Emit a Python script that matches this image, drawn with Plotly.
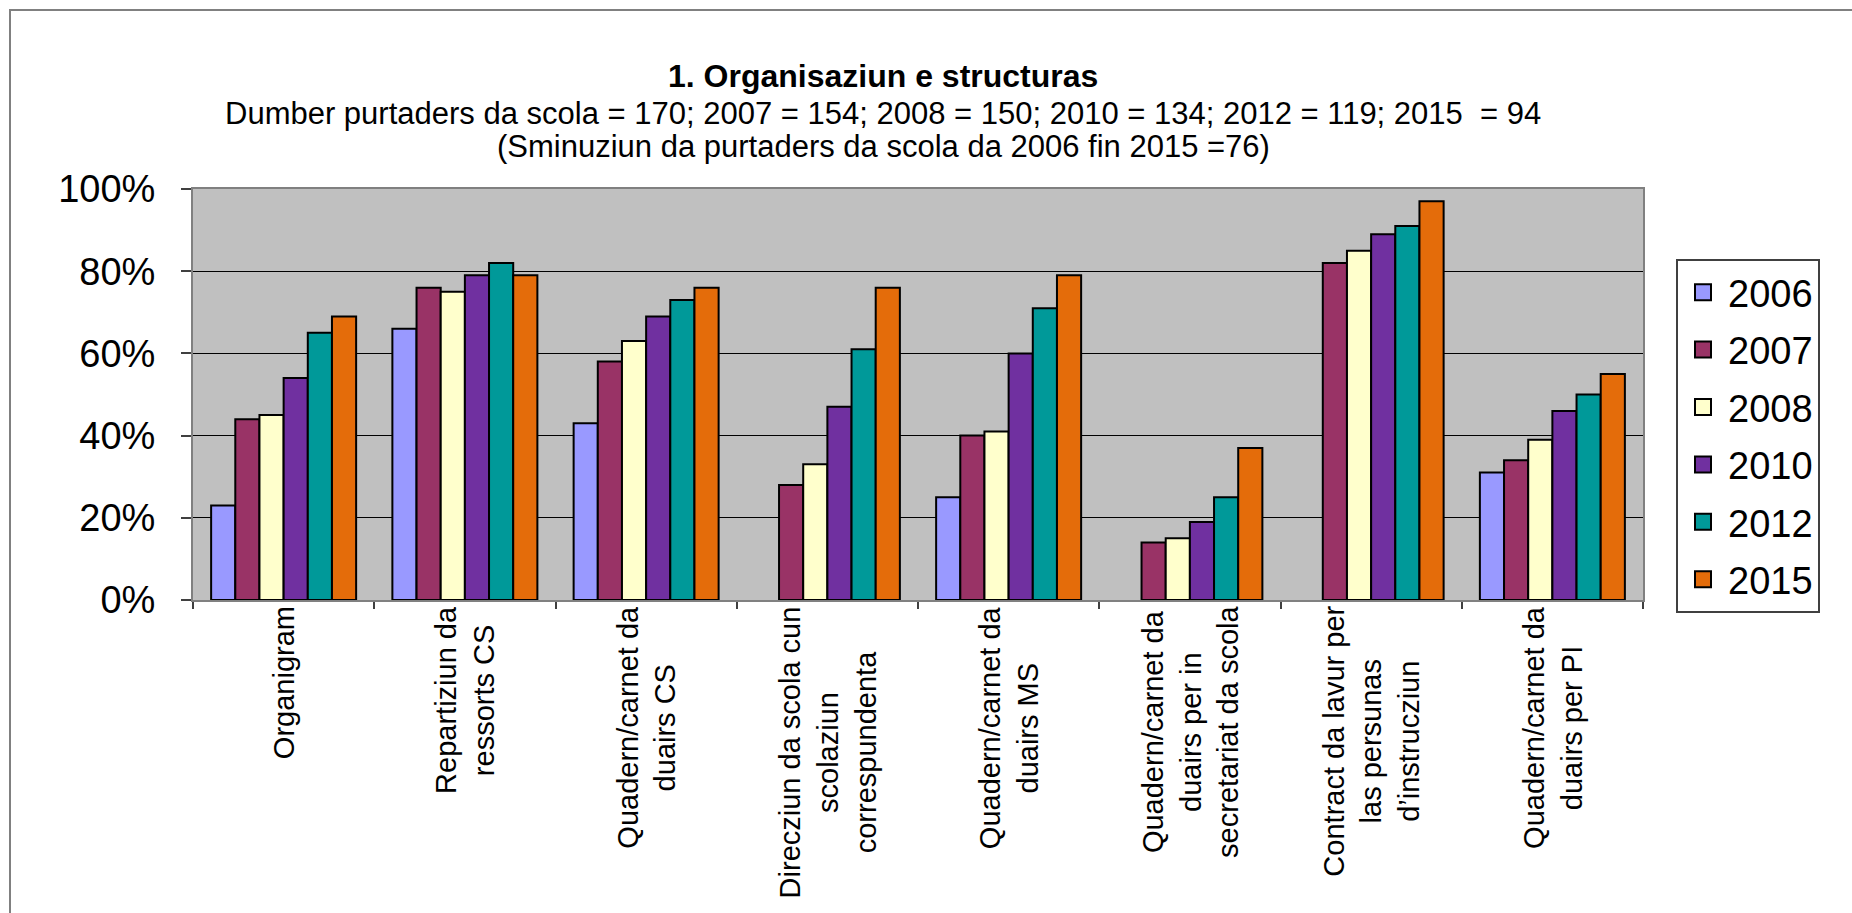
import plotly.graph_objects as go

categories = [
    "Organigram",
    "Repartiziun da<br>ressorts CS",
    "Quadern/carnet da<br>duairs CS",
    "Direcziun da scola cun<br>scolaziun<br>correspundenta",
    "Quadern/carnet da<br>duairs MS",
    "Quadern/carnet da<br>duairs per in<br>secretariat da scola",
    "Contract da lavur per<br>las persunas<br>d\u2019instrucziun",
    "Quadern/carnet da<br>duairs per PI",
]

years = ["2006", "2007", "2008", "2010", "2012", "2015"]

v2006 = [0.23, 0.66, 0.43, None, 0.25, None, None, 0.31]
v2007 = [0.44, 0.76, 0.58, 0.28, 0.40, 0.14, 0.82, 0.34]
v2008 = [0.45, 0.75, 0.63, 0.33, 0.41, 0.15, 0.85, 0.39]
v2010 = [0.54, 0.79, 0.69, 0.47, 0.60, 0.19, 0.89, 0.46]
v2012 = [0.65, 0.82, 0.73, 0.61, 0.71, 0.25, 0.91, 0.50]
v2015 = [0.69, 0.79, 0.76, 0.76, 0.79, 0.37, 0.97, 0.55]

series = [v2006, v2007, v2008, v2010, v2012, v2015]
colors = ["#9999FF", "#993366", "#FFFFCC", "#7030A0", "#009999", "#E46C0A"]

title_text = "<b>1. Organisaziun e structuras</b>"
sub1 = "Dumber purtaders da scola = 170; 2007 = 154; 2008 = 150; 2010 = 134; 2012 = 119; 2015  = 94"
sub2 = "(Sminuziun da purtaders da scola da 2006 fin 2015 =76)"

FONT = "Liberation Sans, Arial, sans-serif"

fig = go.Figure()
for yr, vals, col in zip(years, series, colors):
    fig.add_trace(go.Bar(
        name=yr, x=categories, y=vals,
        marker=dict(color=col, line=dict(color="#000000", width=2)),
        showlegend=False, legendgroup=yr,
    ))
# legend entries (larger square symbols)
for yr, col in zip(years, colors):
    fig.add_trace(go.Scatter(
        name=yr, x=[None], y=[None], mode="markers",
        marker=dict(symbol="square", size=16, color=col,
                    line=dict(color="#000000", width=2)),
        legendgroup=yr, showlegend=True,
    ))

L, R, T, B = 193, 209, 189, 313
W, H = 1852, 913
pw, ph = W - L - R, H - T - B

def px_x(p):
    return (p - L) / pw

def px_y(p):
    return (H - B - p) / ph

annotations = [
    dict(text=title_text, x=px_x(883), y=px_y(76), xref="paper", yref="paper",
         showarrow=False, xanchor="center", yanchor="middle",
         font=dict(size=32, family=FONT, color="#000000")),
    dict(text=sub1, x=px_x(883), y=px_y(113), xref="paper", yref="paper",
         showarrow=False, xanchor="center", yanchor="middle",
         font=dict(size=31, family=FONT, color="#000000")),
    dict(text=sub2, x=px_x(883), y=px_y(147), xref="paper", yref="paper",
         showarrow=False, xanchor="center", yanchor="middle",
         font=dict(size=31, family=FONT, color="#000000")),
]
for c in categories:
    annotations.append(dict(
        text=c, x=c, xref="x", y=0, yref="paper", yshift=-4,
        xanchor="center", yanchor="top", textangle=-90, align="center",
        showarrow=False, font=dict(size=29, family=FONT, color="#000000"),
    ))

fig.update_layout(
    width=W, height=H,
    margin=dict(l=L, r=R, t=T, b=B, autoexpand=False),
    paper_bgcolor="#FFFFFF",
    plot_bgcolor="#C0C0C0",
    barmode="group", bargap=0.2, bargroupgap=0,
    font=dict(family=FONT, color="#000000"),
    annotations=annotations,
    legend=dict(
        x=px_x(1676), y=px_y(259), xanchor="left", yanchor="top",
        bgcolor="#FFFFFF", bordercolor="#404040", borderwidth=2,
        font=dict(size=38, family=FONT, color="#000000"),
        tracegroupgap=5, traceorder="grouped", itemwidth=40,
    ),
    shapes=[dict(type="rect", xref="paper", yref="paper",
                 x0=px_x(10), x1=1.3, y0=-1.0, y1=px_y(10),
                 line=dict(color="#808080", width=2), fillcolor="rgba(0,0,0,0)",
                 layer="below")],
)
fig.update_xaxes(
    type="category", showticklabels=False, ticks="outside", tickson="boundaries",
    ticklen=7, tickcolor="#404040", tickwidth=2,
    showline=True, linecolor="#808080", linewidth=2, mirror=True,
    showgrid=False, zeroline=False, fixedrange=True,
)
fig.update_yaxes(
    range=[0, 1], dtick=0.2, tickformat=".0%", ticks="outside", ticklen=10,
    tickcolor="#404040", tickwidth=2, ticklabelstandoff=18,
    tickfont=dict(size=38, family=FONT, color="#000000"),
    showline=True, linecolor="#808080", linewidth=2, mirror=True,
    showgrid=True, gridcolor="#000000", gridwidth=1, zeroline=False,
)

fig.write_html("out.html")
